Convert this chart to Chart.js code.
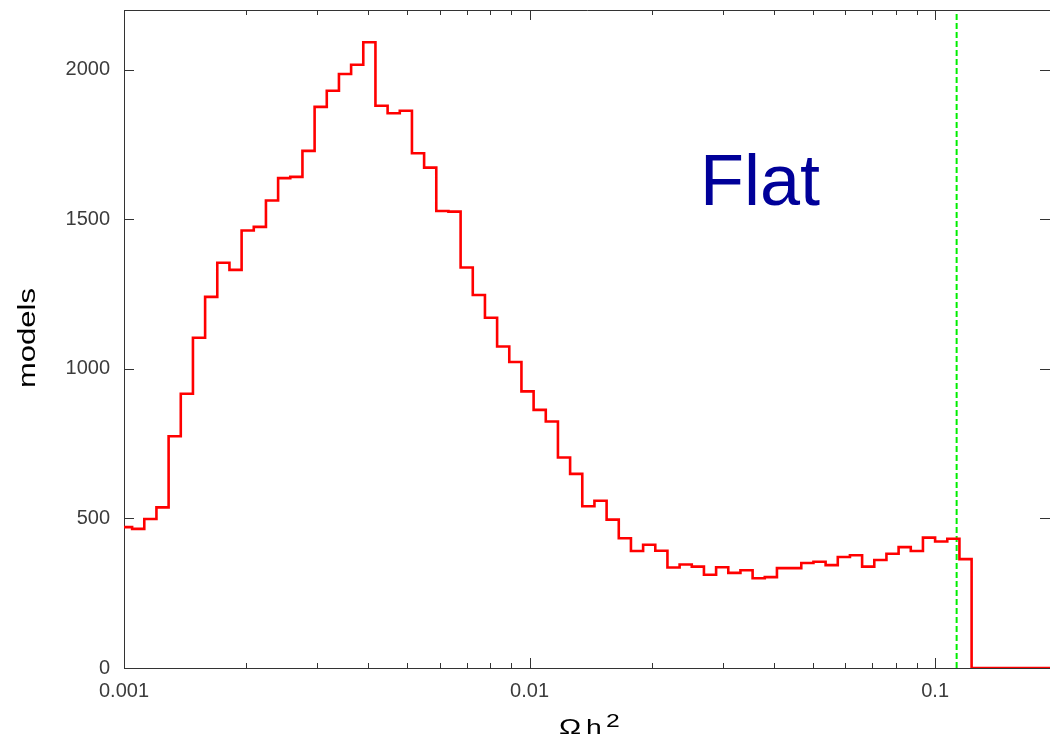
<!DOCTYPE html>
<html>
<head>
  <script src="https://cdn.jsdelivr.net/npm/chart.js@4.4.1/dist/chart.umd.min.js"></script>
  <style>
    html, body { margin: 0; padding: 0; background: #fff; }
    #box { width: 1050px; height: 737px; }
  </style>
</head>
<body>
  <div id="box">
    <canvas id="wykres" width="1050" height="737"></canvas>
  </div>
  <script>
// histogram bins: equal width in log10(Omega h^2)
const logStart = -2.98;     // left edge of first full bin
const logStep = 0.03;       // bin width in log10
const firstPartial = 471;   // clipped bin between 0.001 and first edge
const counts = [465, 498, 537, 775, 917, 1104, 1241, 1355, 1331, 1463,
  1475, 1563, 1638, 1642, 1729, 1876, 1930, 1986, 2017, 2092,
  1880, 1855, 1863, 1721, 1673, 1528, 1526, 1339, 1247, 1171,
  1075, 1023, 925, 863, 824, 704, 649, 541, 559, 496,
  434, 391, 412, 392, 336, 346, 339, 312, 337, 318,
  327, 300, 304, 334, 334, 351, 355, 344, 371, 377,
  339, 361, 382, 404, 391, 436, 423, 432, 364];
const xMin = 0.001;
const xMax = 0.192;
const yMax = 2200;
const yTickLabels = [0, 500, 1000, 1500, 2000];
const xTickLabels = [0.001, 0.01, 0.1];
const wmapLine = 0.113;     // green dashed marker

// step points at the left edge of every bin
let histo = [{ x: xMin, y: firstPartial }];
for (let i = 0; i < counts.length; i++) {
  histo.push({ x: Math.pow(10, logStart + logStep * i), y: counts[i] });
}
histo.push({ x: Math.pow(10, logStart + logStep * counts.length), y: 0 });
histo.push({ x: xMax, y: 0 });

function isDecadeMultiple(v) {
  const e = Math.floor(Math.log10(v) + 1e-9);
  const m = v / Math.pow(10, e);
  return Math.abs(m - Math.round(m)) < 1e-6 ? Math.round(m) : 0;
}

// text stretched sideways like the original bitmap labels
function wideText(ctx, txt, x, y, font, sx) {
  ctx.save();
  ctx.font = font;
  ctx.translate(x, y);
  ctx.scale(sx, 1);
  ctx.fillText(txt, 0, 0);
  ctx.restore();
}

// no extra room for half labels, the frame sits where we ask
function noPad(scale) {
  scale.paddingTop = 0;
  scale.paddingBottom = 0;
  scale.paddingLeft = 0;
  scale.paddingRight = 0;
}

const frame = {
  id: 'frame',
  beforeDatasetsDraw(chart) {
    const ctx = chart.ctx;
    const a = chart.chartArea;
    const xs = chart.scales.x;
    const ys = chart.scales.y;
    ctx.save();
    ctx.strokeStyle = '#333';
    ctx.lineWidth = 1;
    ctx.beginPath();
    ctx.moveTo(a.left + 0.5, a.top + 0.5);
    ctx.lineTo(a.right, a.top + 0.5);
    ctx.moveTo(a.left + 0.5, a.top);
    ctx.lineTo(a.left + 0.5, a.bottom);
    ctx.moveTo(a.left, a.bottom + 0.5);
    ctx.lineTo(a.right, a.bottom + 0.5);
    // right edge line falls just outside the picture, only its ticks show
    // x ticks (top and bottom, inward)
    xs.ticks.forEach(t => {
      const m = isDecadeMultiple(t.value);
      if (!m) return;
      const len = m === 1 ? 10 : 5;
      const px = Math.round(xs.getPixelForValue(t.value)) + 0.5;
      ctx.moveTo(px, a.bottom);
      ctx.lineTo(px, a.bottom - len);
      ctx.moveTo(px, a.top);
      ctx.lineTo(px, a.top + len);
    });
    // y ticks (left and right, inward)
    yTickLabels.forEach(v => {
      const py = Math.round(ys.getPixelForValue(v)) + 0.5;
      ctx.moveTo(a.left, py);
      ctx.lineTo(a.left + 10, py);
      ctx.moveTo(a.right, py);
      ctx.lineTo(a.right - 10, py);
    });
    ctx.stroke();
    ctx.restore();
  },
  afterDraw(chart) {
    const ctx = chart.ctx;
    ctx.save();
    ctx.fillStyle = '#000099';
    ctx.font = '72px "Liberation Sans", Arial, sans-serif';
    ctx.textBaseline = 'alphabetic';
    ctx.fillText('Flat', 700, 205);

    ctx.fillStyle = '#000';
    // y axis title
    ctx.save();
    ctx.translate(35, 338);
    ctx.rotate(-Math.PI / 2);
    ctx.scale(1.35, 1);
    ctx.font = '23px "Liberation Sans", Arial, sans-serif';
    ctx.textAlign = 'center';
    ctx.fillText('models', 0, 0);
    ctx.restore();

    // x axis title: Omega h^2
    ctx.textAlign = 'left';
    wideText(ctx, 'Ω', 559, 734, '22px "Liberation Sans", Arial, sans-serif', 1.35);
    wideText(ctx, 'h', 586, 734, '21px "Liberation Sans", Arial, sans-serif', 1.35);
    wideText(ctx, '2', 606, 727, '19px "Liberation Sans", Arial, sans-serif', 1.3);
    ctx.restore();
  }
};

const ctx = document.getElementById('wykres');
const myChart = new Chart(ctx, {
  type: 'line',
  data: {
    datasets: [{
      label: 'models',
      data: histo,
      borderColor: '#ff0000',
      borderWidth: 2.6,
      stepped: true,
      pointRadius: 0,
      fill: false
    }, {
      label: 'WMAP',
      data: [{ x: wmapLine, y: 0 }, { x: wmapLine, y: 2192 }],
      borderColor: '#00ee00',
      borderWidth: 2,
      borderDash: [6, 3],
      pointRadius: 0,
      fill: false
    }]
  },
  options: {
    responsive: false,
    animation: false,
    layout: { padding: { top: 10, right: 0, left: 0, bottom: 0 } },
    plugins: {
      legend: { display: false },
      tooltip: { enabled: false }
    },
    scales: {
      x: {
        type: 'logarithmic',
        min: xMin,
        max: xMax,
        grid: { display: false, drawTicks: false },
        border: { display: false },
        afterFit(scale) { scale.height = 69; noPad(scale); },
        ticks: {
          autoSkip: false,
          maxRotation: 0,
          padding: 11,
          color: '#3c3c3c',
          font: { family: '"Liberation Sans", Arial, sans-serif', size: 20 },
          callback(value) {
            const hit = xTickLabels.find(l => Math.abs(l - value) / l < 1e-6);
            return hit ? String(hit) : '';
          }
        }
      },
      y: {
        min: 0,
        max: yMax,
        grid: { display: false, drawTicks: false },
        border: { display: false },
        afterBuildTicks(scale) {
          scale.ticks = yTickLabels.map(v => ({ value: v }));
        },
        afterFit(scale) { scale.width = 124; noPad(scale); },
        ticks: {
          autoSkip: false,
          padding: 14,
          color: '#3c3c3c',
          font: { family: '"Liberation Sans", Arial, sans-serif', size: 20 },
          callback(value) { return String(value); }
        }
      }
    }
  },
  plugins: [frame]
});
  </script>
</body>
</html>
